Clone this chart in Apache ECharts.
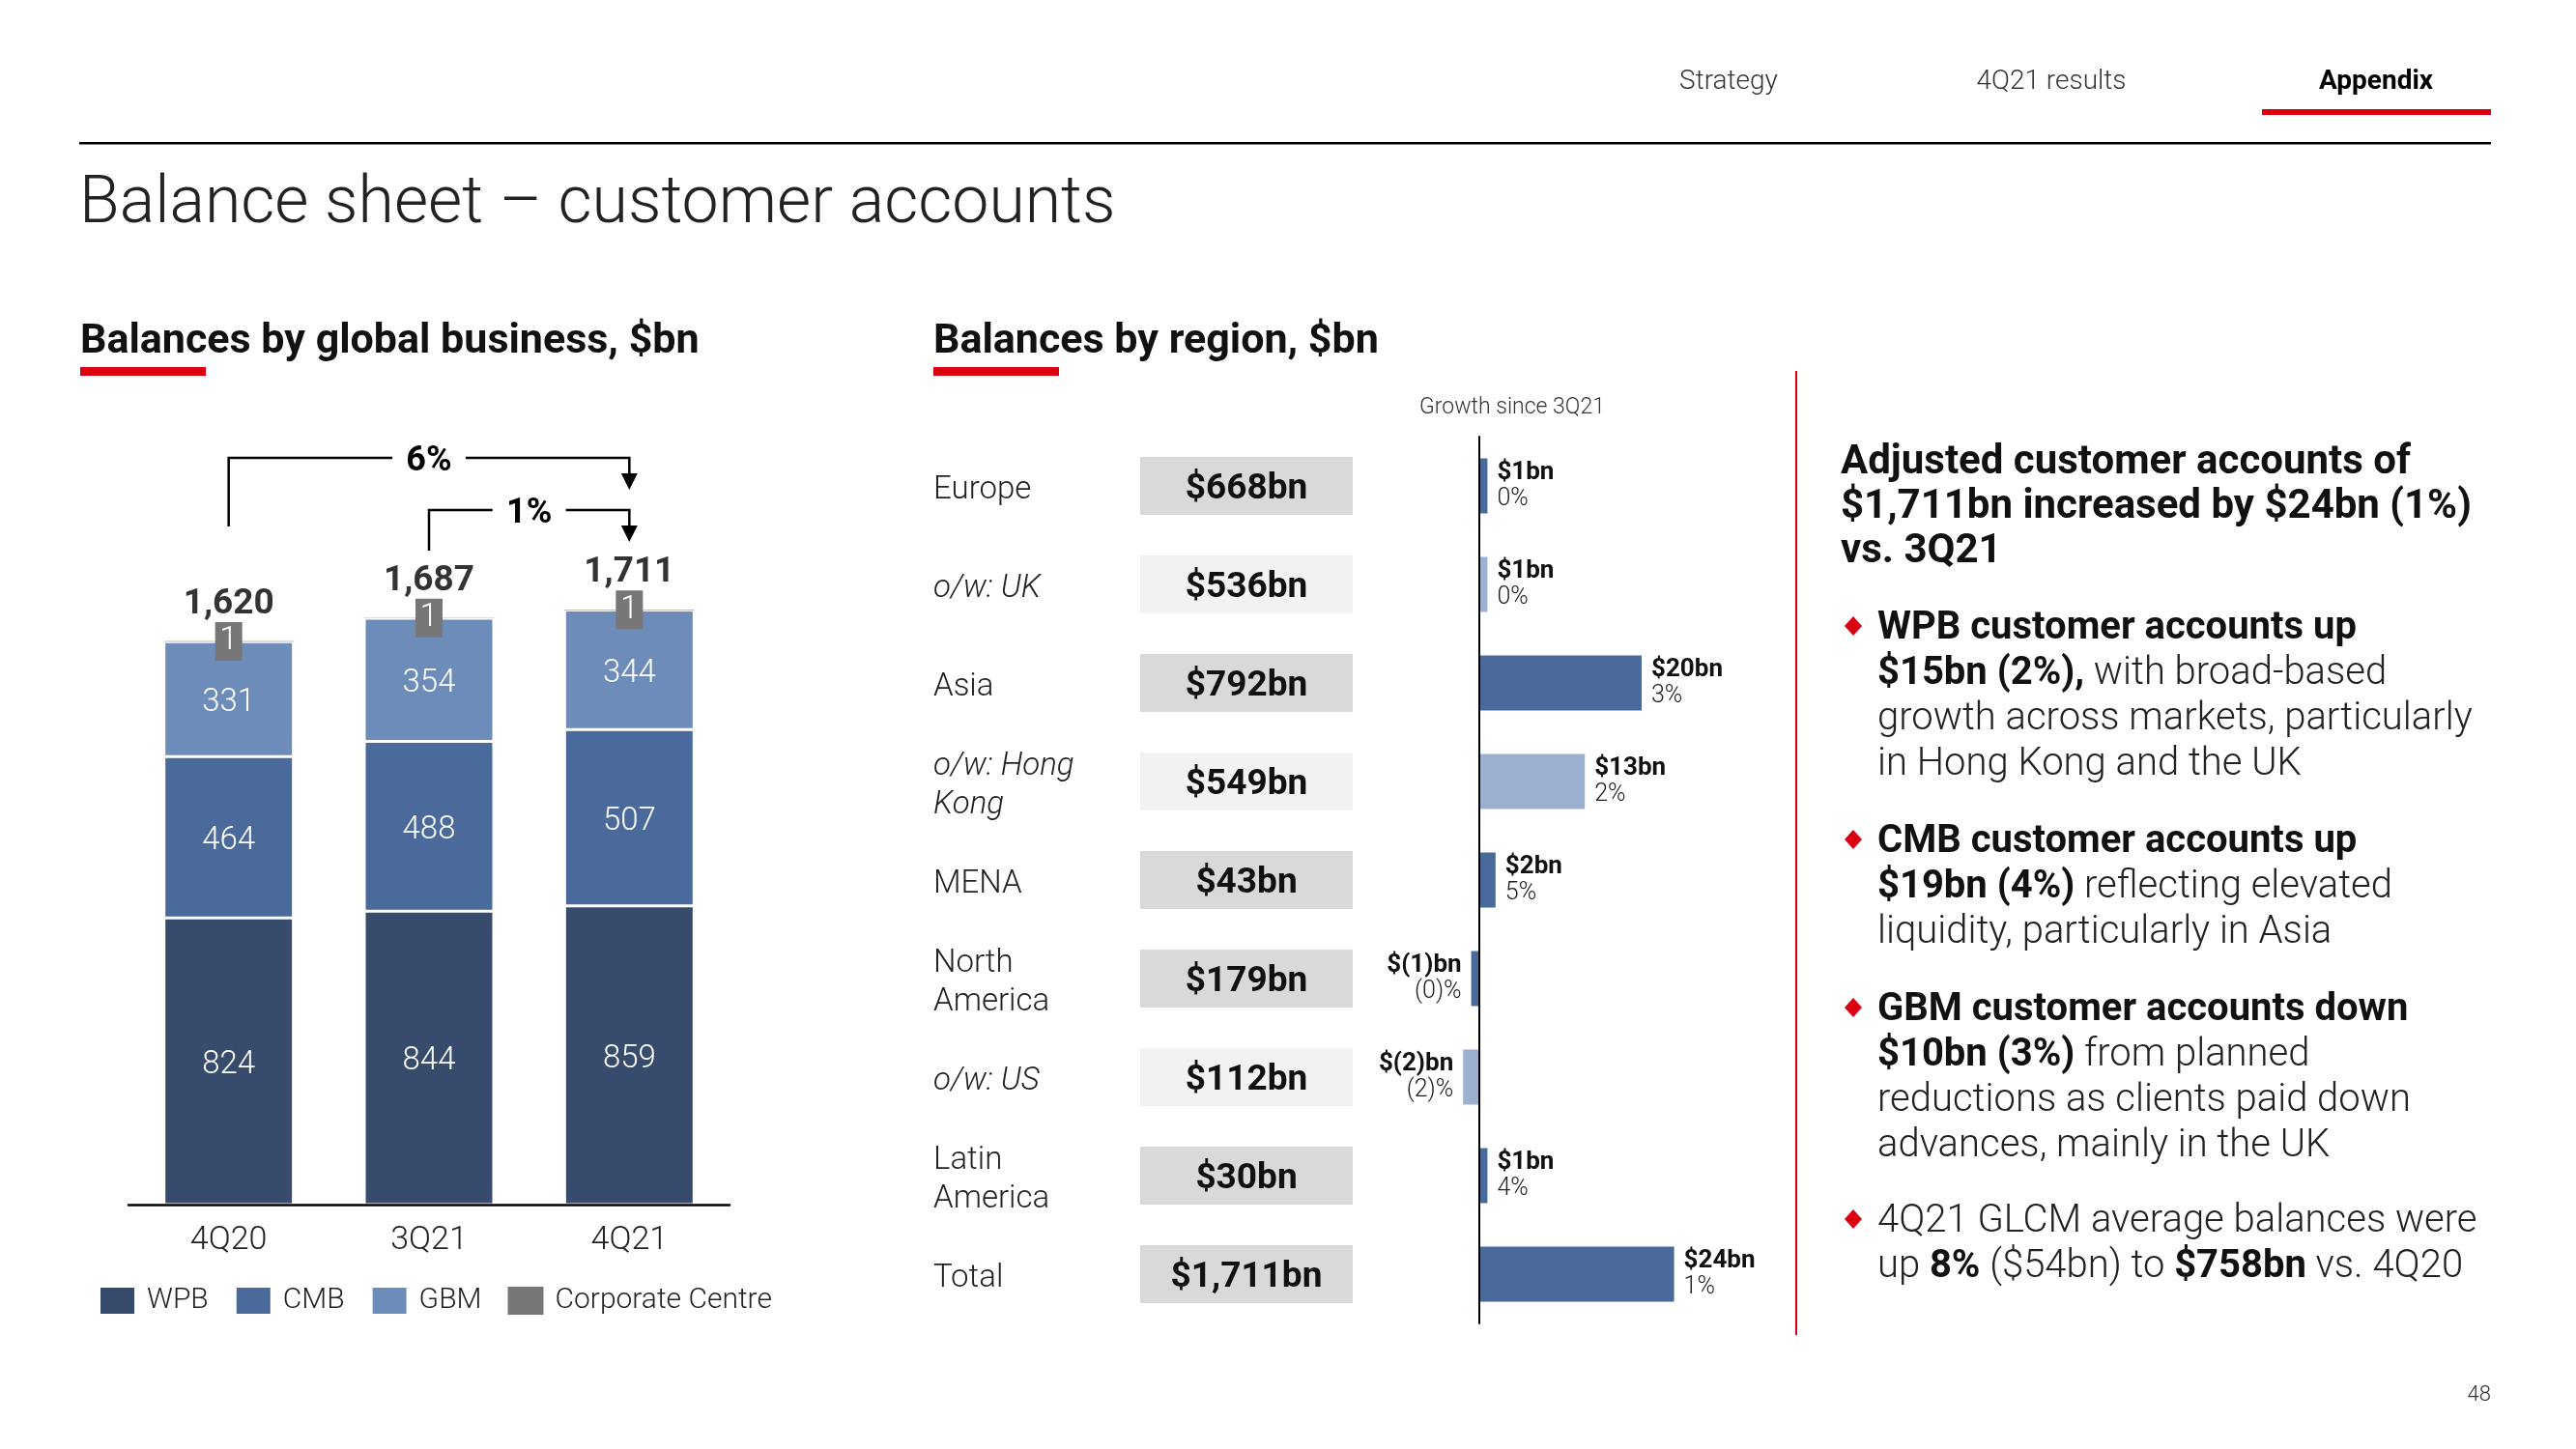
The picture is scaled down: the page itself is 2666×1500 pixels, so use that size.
<!DOCTYPE html>
<html><head><meta charset="utf-8">
<script src="https://cdn.jsdelivr.net/npm/echarts@6/dist/echarts.min.js"></script>
<style>html,body{margin:0;padding:0;background:#fff}#c{width:2666px;height:1500px}</style>
</head><body><div id="c"></div>
<script>
// ---------- data ----------
const quarters = ['4Q20', '3Q21', '4Q21'];
const wpb = [824, 844, 859];
const cmb = [464, 488, 507];
const gbm = [331, 354, 344];
const corpCentre = [1, 1, 1];
const seriesNames = ['WPB', 'CMB', 'GBM', 'Corporate Centre'];
const bracketLabels = ['6%', '1%'];

const regions = ['Europe', 'o/w: UK', 'Asia', 'o/w: Hong\nKong', 'MENA', 'North\nAmerica', 'o/w: US', 'Latin\nAmerica', 'Total'];
const isSubRegion = [false, true, false, true, false, false, true, false, false];
const balances = [668, 536, 792, 549, 43, 179, 112, 30, 1711];
const growthBn = [1, 1, 20, 13, 2, -1, -2, 1, 24];
const growthPct = ['0%', '0%', '3%', '2%', '5%', '(0)%', '(2)%', '4%', '1%'];

// ---------- styles ----------
const F = 'Roboto, "Noto Sans", sans-serif';
const C = { wpb: '#374c6c', cmb: '#4a6a9b', gbm: '#6d8cba', cc: '#777777', light: '#9db0d0', red: '#db0011' };
const totals = quarters.map((q, i) => wpb[i] + cmb[i] + gbm[i] + corpCentre[i]);

const chart = echarts.init(document.getElementById('c'), null, { renderer: 'canvas' });

const segLabel = { show: true, position: 'inside', offset: [0, 4], color: '#fff', fontSize: 33, fontWeight: 300, fontFamily: F };
const segItem = c => ({ color: c, borderColor: '#fff', borderWidth: 1.5 });

chart.setOption({
  animation: false,
  backgroundColor: '#fff',
  textStyle: { fontFamily: F },
  grid: [
    { left: 133, top: 599, width: 622, height: 648, outerBoundsMode: 'none' },
    { left: 1489, top: 452, width: 294, height: 918, outerBoundsMode: 'none' },
    { left: 1180, top: 452, width: 220, height: 918, outerBoundsMode: 'none' }
  ],
  legend: {
    data: seriesNames, left: 102, top: 1331, padding: 0, icon: 'rect', itemWidth: 37, itemHeight: 29, itemGap: 27,
    selectedMode: false,
    textStyle: { fontSize: 30, color: '#222', fontWeight: 300, fontFamily: F, padding: [4, 0, 0, 7] }
  },
  xAxis: [
    { type: 'category', gridIndex: 0, data: quarters, z: 5,
      axisLine: { lineStyle: { color: '#000', width: 2.5 } }, axisTick: { show: false },
      axisLabel: { fontSize: 34, color: '#222', fontWeight: 300, margin: 20, fontFamily: F } },
    { type: 'value', gridIndex: 1, min: -5, max: 30,
      axisLine: { show: false }, axisTick: { show: false }, axisLabel: { show: false }, splitLine: { show: false } },
    { type: 'value', gridIndex: 2, min: 0, max: 1, show: false }
  ],
  yAxis: [
    { type: 'value', gridIndex: 0, min: 0, max: 1800, show: false, splitLine: { show: false } },
    { type: 'category', gridIndex: 1, data: regions, inverse: true, z: 5,
      axisLine: { show: true, onZero: true, lineStyle: { color: '#000', width: 2 } },
      axisTick: { show: false }, axisLabel: { show: false } },
    { type: 'category', gridIndex: 2, data: regions, inverse: true,
      axisLine: { show: false }, axisTick: { show: false },
      axisLabel: {
        show: true, interval: 0, hideOverlap: false, align: 'left', margin: 214,
        fontSize: 33, lineHeight: 40, color: '#222', fontWeight: 300, fontFamily: F, padding: [9, 0, 0, 0],
        formatter: (v, i) => isSubRegion[i] ? v.split('\n').map(s => '{i|' + s + '}').join('\n') : v,
        rich: { i: { fontStyle: 'italic', fontSize: 33, lineHeight: 40, color: '#222', fontWeight: 300, fontFamily: F } }
      } }
  ],
  series: [
    { name: 'WPB', type: 'bar', stack: 'a', xAxisIndex: 0, yAxisIndex: 0, data: wpb, barWidth: 134,
      itemStyle: segItem(C.wpb), label: segLabel },
    { name: 'CMB', type: 'bar', stack: 'a', xAxisIndex: 0, yAxisIndex: 0, data: cmb, barWidth: 134,
      itemStyle: segItem(C.cmb), label: segLabel },
    { name: 'GBM', type: 'bar', stack: 'a', xAxisIndex: 0, yAxisIndex: 0, data: gbm, barWidth: 134,
      itemStyle: segItem(C.gbm), label: segLabel },
    { name: 'Corporate Centre', type: 'bar', stack: 'a', xAxisIndex: 0, yAxisIndex: 0, data: corpCentre, barWidth: 134,
      itemStyle: { color: C.cc, borderWidth: 0 },
      label: { show: true, position: 'inside', color: '#fff', fontSize: 34, fontWeight: 300, fontFamily: F,
        backgroundColor: C.cc, width: 28, height: 40, lineHeight: 40, align: 'center', verticalAlign: 'middle', padding: 0 } },
    { type: 'scatter', xAxisIndex: 0, yAxisIndex: 0, data: totals, symbolSize: 0, silent: true,
      label: { show: true, position: 'inside', offset: [0, -38], fontSize: 37, fontWeight: 'bold', color: '#000', fontFamily: F,
        formatter: p => p.value.toLocaleString('en-US') } },
    { type: 'bar', xAxisIndex: 1, yAxisIndex: 1, barWidth: 57,
      data: growthBn.map((v, i) => ({ value: v, itemStyle: { color: isSubRegion[i] ? C.light : C.cmb },
        label: { position: v < 0 ? 'left' : 'right' } })),
      label: { show: true, distance: 10,
        formatter: p => { const v = growthBn[p.dataIndex]; const s = v < 0 ? '$(' + (-v) + ')bn' : '$' + v + 'bn';
          return '{b|' + s + '}\n{p|' + growthPct[p.dataIndex] + '}'; },
        rich: { b: { fontSize: 26, fontWeight: 'bold', lineHeight: 27, color: '#111', fontFamily: F },
                p: { fontSize: 25, fontWeight: 300, lineHeight: 27, color: '#222', fontFamily: F } } } },
    { type: 'scatter', xAxisIndex: 2, yAxisIndex: 2, symbol: 'rect', symbolSize: [220, 60], silent: true,
      data: balances.map((v, i) => ({ value: [0.5, i], itemStyle: { color: isSubRegion[i] ? '#f2f2f2' : '#d9d9d9', opacity: 1 } })),
      label: { show: true, position: 'inside', offset: [0, 4], fontSize: 37, fontWeight: 'bold', color: '#111', fontFamily: F,
        formatter: p => '$' + balances[p.dataIndex].toLocaleString('en-US') + 'bn' } }
  ]
});

// ---------- annotations / slide text ----------
function T(x, y, text, size, o) {
  o = o || {};
  return { type: 'text', x: x, y: y + Math.round(size * 0.1), silent: true,
    style: { text: text, fill: o.fill || '#222', fontSize: size, fontWeight: o.weight || 'normal', fontStyle: o.style || 'normal',
      fontFamily: F, align: o.align || 'left', verticalAlign: o.va || 'middle' } };
}
function R(x, y, w, h, fill) { return { type: 'rect', silent: true, shape: { x: x, y: y, width: w, height: h }, style: { fill: fill } }; }
function L(pts, w) { return { type: 'polyline', silent: true, shape: { points: pts }, style: { stroke: '#000', lineWidth: w || 2.5, fill: null } }; }
function rich(x, yTop, text, size, lh) {
  const st = { fontSize: size, lineHeight: lh, fontFamily: F };
  return { type: 'text', x: x, y: yTop + 5, silent: true,
    style: { text: text, align: 'left', verticalAlign: 'top', fontSize: size, fontFamily: F, lineHeight: lh, fill: '#222',
      rich: { b: Object.assign({ fontWeight: 'bold', fill: '#111', color: '#111' }, st),
              n: Object.assign({ fontWeight: 300, fill: '#222', color: '#222' }, st) } } };
}
function diamond(cx, cy) {
  return { type: 'polygon', silent: true, shape: { points: [[cx, cy - 10], [cx + 9, cy], [cx, cy + 10], [cx - 9, cy]] }, style: { fill: C.red } };
}

const g = [];
// header
g.push(T(1789, 82, 'Strategy', 28, { align: 'center', fill: '#333', weight: 300 }));
g.push(T(2123, 82, '4Q21 results', 28, { align: 'center', fill: '#333', weight: 300 }));
g.push(T(2459, 82, 'Appendix', 28, { align: 'center', fill: '#000', weight: 'bold' }));
g.push(R(2341, 113, 237, 6, C.red));
g.push(R(82, 147, 2496, 2.5, '#000'));
g.push(T(82, 206, 'Balance sheet – customer accounts', 68, { fill: '#222', weight: 300 }));
// sub titles
g.push(T(83, 350, 'Balances by global business, $bn', 43, { fill: '#111', weight: 'bold' }));
g.push(R(83, 380, 130, 9, C.red));
g.push(T(966, 350, 'Balances by region, $bn', 43, { fill: '#111', weight: 'bold' }));
g.push(R(966, 380, 130, 9, C.red));
g.push(T(1565, 420, 'Growth since 3Q21', 23, { align: 'center', fill: '#333', weight: 300 }));
// red divider
g.push(R(1858, 384, 2, 998, C.red));
// right text
g.push(rich(1905, 451, '{b|Adjusted customer accounts of}\n{b|$1,711bn increased by $24bn (1%)}\n{b|vs. 3Q21}', 42, 46));
g.push(diamond(1918, 648));
g.push(rich(1943, 622.5, '{b|WPB customer accounts up}\n{b|$15bn (2%),}{n| with broad-based}\n{n|growth across markets, particularly}\n{n|in Hong Kong and the UK}', 40, 47));
g.push(diamond(1918, 869));
g.push(rich(1943, 843.5, '{b|CMB customer accounts up}\n{b|$19bn (4%)}{n| reflecting elevated}\n{n|liquidity, particularly in Asia}', 40, 47));
g.push(diamond(1918, 1043));
g.push(rich(1943, 1017.5, '{b|GBM customer accounts down}\n{b|$10bn (3%)}{n| from planned}\n{n|reductions as clients paid down}\n{n|advances, mainly in the UK}', 40, 47));
g.push(diamond(1918, 1262));
g.push(rich(1943, 1236.5, '{n|4Q21 GLCM average balances were}\n{n|up }{b|8%}{n| ($54bn) to }{b|$758bn}{n| vs. 4Q20}', 40, 47));
g.push(T(2578, 1442, '48', 22, { align: 'right', fill: '#333', weight: 300 }));

// growth brackets between bars (x from the chart's category scale)
function bracket(ia, ib, yTop, yStart, yTip, label) {
  const xa = chart.convertToPixel({ gridIndex: 0 }, [ia, 0])[0];
  const xb = chart.convertToPixel({ gridIndex: 0 }, [ib, 0])[0];
  const mid = (xa + xb) / 2, gap = 38;
  g.push(L([[xa, yStart], [xa, yTop], [mid - gap, yTop]]));
  g.push(L([[mid + gap, yTop], [xb, yTop], [xb, yTip - 16]]));
  g.push({ type: 'polygon', silent: true, shape: { points: [[xb - 8.5, yTip - 17], [xb + 8.5, yTip - 17], [xb, yTip]] }, style: { fill: '#000' } });
  g.push(T(mid, yTop, label, 36, { align: 'center', fill: '#000', weight: 'bold' }));
}
bracket(0, 2, 474, 545, 507, bracketLabels[0]);
bracket(1, 2, 528, 570, 561, bracketLabels[1]);

chart.setOption({ graphic: { elements: g } });
</script>
</body></html>
